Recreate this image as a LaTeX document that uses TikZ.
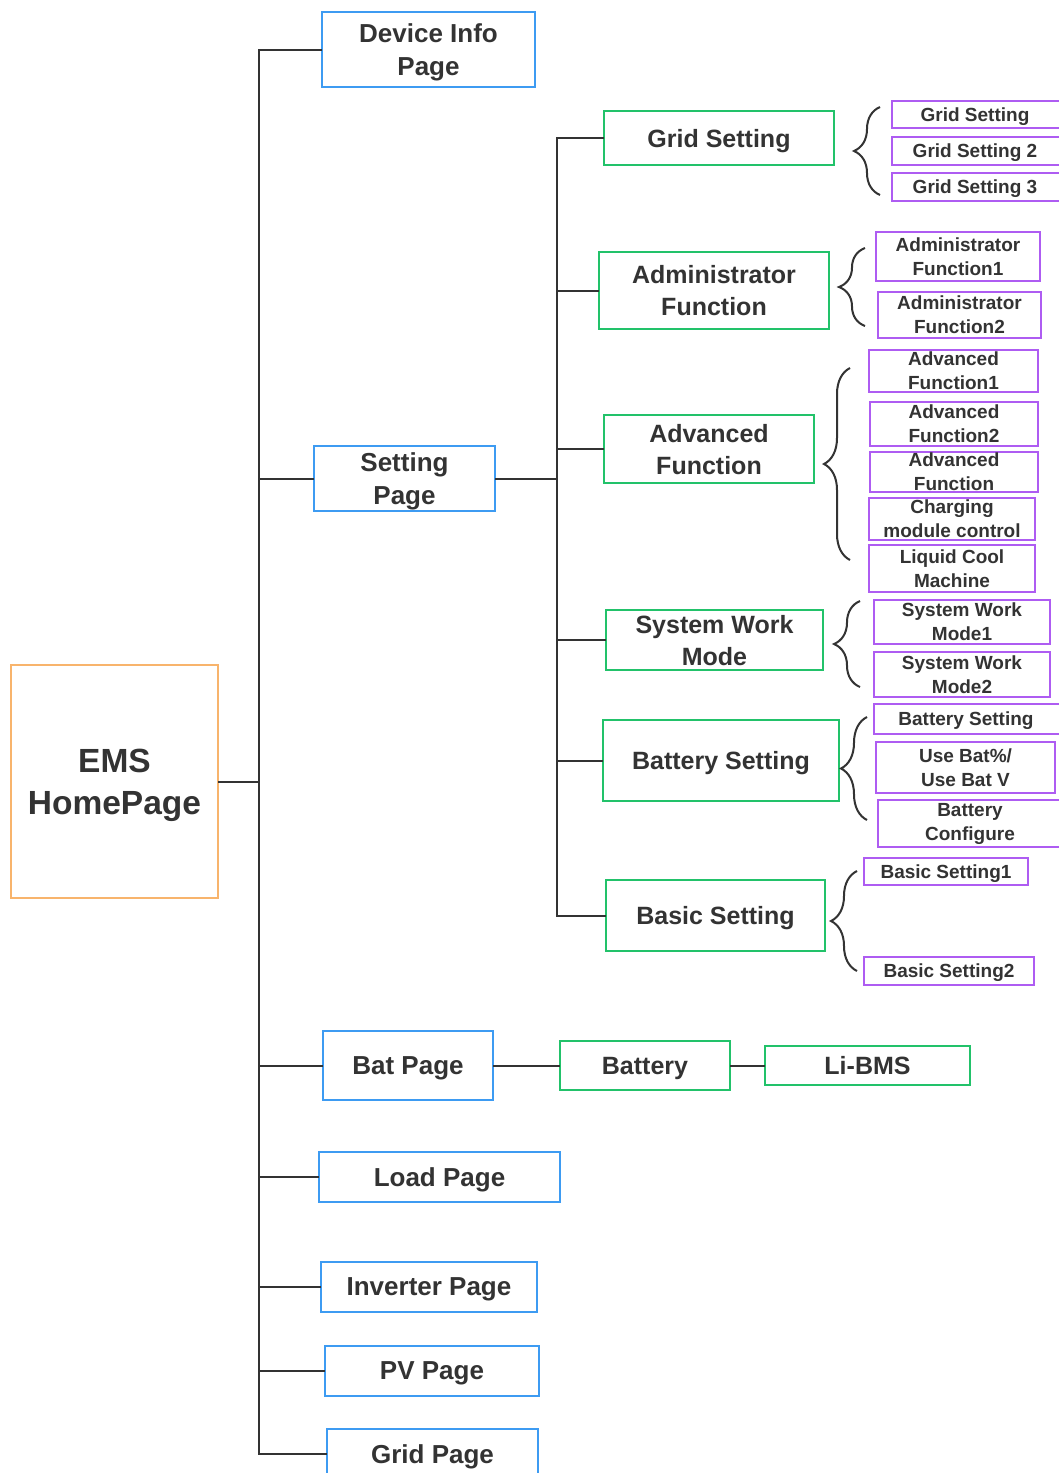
\documentclass[tikz,border=0pt]{standalone}
\usepackage{fontspec}
\setmainfont{Liberation Sans}
\usetikzlibrary{decorations.pathreplacing}
\definecolor{cblue}{HTML}{3D9BF2}
\definecolor{cgreen}{HTML}{22C26A}
\definecolor{cpurple}{HTML}{AE5CF2}
\definecolor{corange}{HTML}{F8B46C}
\definecolor{txt}{HTML}{333333}
\definecolor{lin}{HTML}{333333}
\begin{document}
\begin{tikzpicture}[x=1pt,y=-1pt,
  box/.style={draw, line width=2.5pt, inner sep=0pt, outer sep=0pt, align=center, text=txt},
  orangebox/.style={box, draw=corange, text depth=0pt, font=\bfseries\fontsize{33.5}{42}\selectfont},
  bluebox/.style={box, draw=cblue, text depth=0pt, font=\bfseries\fontsize{26}{33}\selectfont},
  greenbox/.style={box, draw=cgreen, text depth=0pt, font=\bfseries\fontsize{25}{32}\selectfont},
  purplebox/.style={box, line width=2.2pt, draw=cpurple, font=\bfseries\fontsize{19}{24}\selectfont},
  purpleone/.style={purplebox, text depth=0pt},
  conn/.style={draw=lin, line width=2pt},
  bracey/.style={draw=lin, line width=2pt, decorate, decoration={brace, amplitude=26pt}}
]
\useasboundingbox (0,0) rectangle (1058,1473);
\fill[white] (0,0) rectangle (1058,1473);

% root
\node[orangebox, minimum width=207, minimum height=233] (ems) at (114.5,781.5) {EMS\\HomePage};

% level 1 (blue)
\node[bluebox, minimum width=213, minimum height=75] (dev) at (428.5,49.5) {Device Info\\Page};
\node[bluebox, minimum width=181, minimum height=65] (set) at (404.5,478.5) {Setting\\Page};
\node[bluebox, minimum width=170, minimum height=69] (bat) at (408,1065.5) {Bat Page};
\node[bluebox, minimum width=241, minimum height=50] (load) at (439.5,1177) {Load Page};
\node[bluebox, minimum width=216, minimum height=50] (inv) at (429,1287) {Inverter Page};
\node[bluebox, minimum width=214, minimum height=50] (pv) at (432,1371) {PV Page};
\node[bluebox, minimum width=211, minimum height=50] (grid) at (432.5,1454) {Grid Page};

% level 2 (green)
\node[greenbox, minimum width=230, minimum height=54] (gs) at (719,138) {Grid Setting};
\node[greenbox, minimum width=230, minimum height=77] (af) at (714,290.5) {Administrator\\Function};
\node[greenbox, minimum width=210, minimum height=68] (adv) at (709,449) {Advanced\\Function};
\node[greenbox, minimum width=217, minimum height=60] (swm) at (714.5,640) {System Work\\Mode};
\node[greenbox, minimum width=236, minimum height=81] (bs) at (721,760.5) {Battery Setting};
\node[greenbox, minimum width=219, minimum height=71] (basic) at (715.5,915.5) {Basic Setting};
\node[greenbox, minimum width=170, minimum height=49] (battery) at (645,1065.5) {Battery};
\node[greenbox, minimum width=205, minimum height=39] (libms) at (867.5,1065.5) {Li-BMS};

% level 3 (purple)
\node[purpleone, minimum width=170, minimum height=27] (g1) at (977,114.5) {Grid Setting\hspace{4pt}};
\node[purpleone, minimum width=170, minimum height=28] (g2) at (977,151) {Grid Setting 2\hspace{4pt}};
\node[purpleone, minimum width=170, minimum height=28] (g3) at (977,187) {Grid Setting 3\hspace{4pt}};
\node[purplebox, minimum width=164, minimum height=49] (a1) at (958,256.5) {Administrator\\Function1};
\node[purplebox, minimum width=163, minimum height=46] (a2) at (959.5,315) {Administrator\\Function2};
\node[purplebox, minimum width=169, minimum height=42] (v1) at (953.5,371) {Advanced\\Function1};
\node[purplebox, minimum width=168, minimum height=44] (v2) at (954,424) {Advanced\\Function2};
\node[purplebox, minimum width=168, minimum height=40] (v3) at (954,472) {Advanced\\Function};
\node[purplebox, minimum width=166, minimum height=42] (ch) at (952,519) {Charging\\module control};
\node[purplebox, minimum width=166, minimum height=47] (lc) at (952,568.5) {Liquid Cool\\Machine};
\node[purplebox, minimum width=176, minimum height=44] (s1) at (962,622) {System Work\\Mode1};
\node[purplebox, minimum width=176, minimum height=45] (s2) at (962,674.5) {System Work\\Mode2};
\node[purpleone, minimum width=188, minimum height=30] (b1) at (968,719) {Battery Setting\hspace{4pt}};
\node[purplebox, minimum width=179, minimum height=51] (b2) at (965.5,767.5) {Use Bat\%/\\Use Bat V};
\node[purplebox, minimum width=184, minimum height=47] (b3) at (970,823.5) {Battery\\Configure\hspace{8pt}};
\node[purpleone, minimum width=164, minimum height=27] (k1) at (946,871.5) {Basic Setting1};
\node[purpleone, minimum width=170, minimum height=28] (k2) at (949,971) {Basic Setting2};

% trunks
\coordinate (T) at (259,0);
\coordinate (U) at (557,0);
\draw[conn] (dev.west) -- (dev.west -| T) -- (grid.west -| T) -- (grid.west);
\draw[conn] (ems.east) -- (ems.east -| T);
\draw[conn] (set.west -| T) -- (set.west);
\draw[conn] (bat.west -| T) -- (bat.west);
\draw[conn] (load.west -| T) -- (load.west);
\draw[conn] (inv.west -| T) -- (inv.west);
\draw[conn] (pv.west -| T) -- (pv.west);

\draw[conn] (set.east) -- (set.east -| U);
\draw[conn] (gs.west) -- (gs.west -| U) -- (basic.west -| U) -- (basic.west);
\draw[conn] (af.west -| U) -- (af.west);
\draw[conn] (adv.west -| U) -- (adv.west);
\draw[conn] (swm.west -| U) -- (swm.west);
\draw[conn] (bs.west -| U) -- (bs.west);

\draw[conn] (bat.east) -- (battery.west);
\draw[conn] (battery.east) -- (libms.west);

% braces
\draw[bracey] (880,195) -- (880,107);
\draw[bracey] (865,326) -- (865,248);
\draw[bracey] (850,560) -- (850,368);
\draw[bracey] (860,687) -- (860,601);
\draw[bracey] (867,820) -- (867,717);
\draw[bracey] (857,971) -- (857,871);
\end{tikzpicture}
\end{document}
